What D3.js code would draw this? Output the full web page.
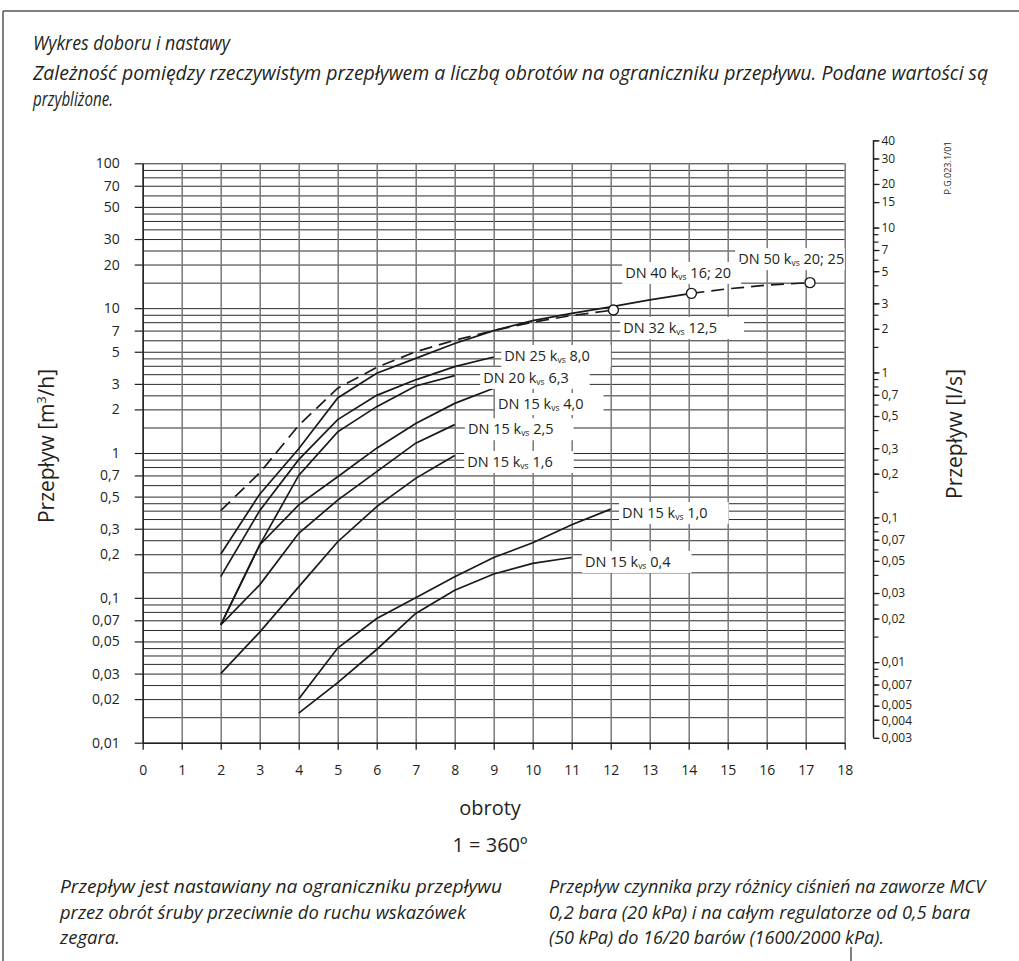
<!DOCTYPE html>
<html><head><meta charset="utf-8">
<script src="https://cdn.jsdelivr.net/npm/d3@7"></script>
<style>
body{margin:0;background:#fff}
svg{display:block}
text{font-family:"Open Sans","Noto Sans",sans-serif;fill:#231f20}
.axis path,.axis line{stroke:#231f20}
</style>
</head><body>
<svg id="c" width="1019" height="961"></svg>
<script>
// ---------- data ----------
const turns = d3.range(0, 19);                       // obroty 0..18
const leftTicks = [100,70,50,30,20,10,7,5,3,2,1,0.7,0.5,0.3,0.2,0.1,0.07,0.05,0.03,0.02,0.01];
const gridMantissas = [1,1.5,2,2.5,3,3.5,4,4.5,5,6,7,8,9];
const gridDecades = [0.01,0.1,1,10];
const rightTicks = [40,30,20,15,10,7,5,3,2,1,0.7,0.5,0.3,0.2,0.1,0.07,0.05,0.03,0.02,0.01,0.007,0.005,0.004,0.003];
const rightMinorMantissas = [1,1.5,2,2.5,3,4,5,6,7,8,9];
const rightDecades = [0.001,0.01,0.1,1,10];
const lsToM3h = 3.6;

// series: [obroty, przepływ m3/h]
const dn15_04 = [[4,0.016],[5,0.026],[6,0.044],[7,0.078],[8,0.113],[9,0.146],[10,0.173],[11,0.19]];
const dn15_10 = [[4,0.02],[5,0.045],[6,0.072],[7,0.10],[8,0.14],[9,0.19],[10,0.24],[11,0.32],[12,0.41]];
const dn15_16 = [[2,0.03],[3,0.058],[4,0.119],[5,0.244],[6,0.426],[7,0.668],[8,0.96]];
const dn15_25 = [[2,0.065],[3,0.123],[4,0.279],[5,0.473],[6,0.743],[7,1.17],[8,1.57]];
const dn15_40 = [[2,0.065],[3,0.232],[4,0.438],[5,0.686],[6,1.08],[7,1.6],[8,2.2],[9,2.8]];
const dn20_63 = [[2,0.065],[3,0.232],[4,0.7],[5,1.4],[6,2.09],[7,2.9],[8,3.42]];
const dn25_80 = [[2,0.14],[3,0.4],[4,0.9],[5,1.7],[6,2.5],[7,3.2],[8,3.95],[9,4.6]];
const dn40_16 = [[2,0.2],[3,0.52],[4,1.07],[5,2.4],[6,3.55],[7,4.5],[8,5.7],[9,7.0],[10,8.2],[11,9.2],[12,10.2],[13,11.4],[14.07,12.65]];
const dn32_125 = [[2,0.4],[3,0.73],[4,1.55],[5,2.8],[6,3.9],[7,5.0],[8,6.0],[9,7.0],[10,8.0],[11,8.9],[12.07,9.7]];
const dn50_20 = [[14.07,12.65],[15,13.6],[16,14.4],[17.11,15.0]];
const endMarkers = [[12.07,9.7],[14.07,12.65],[17.11,15.0]];

const labelNames = ["DN 50","DN 40","DN 32","DN 25","DN 20","DN 15","DN 15","DN 15","DN 15","DN 15"];
const labelKvs = ["20; 25","16; 20","12,5","8,0","6,3","4,0","2,5","1,6","1,0","0,4"];
const labelAt = [[15.27,21.8],[12.37,17.5],[12.32,7.3],[9.27,4.67],[8.73,3.3],[9.11,2.18],[8.34,1.46],[8.32,0.867],[12.29,0.385],[11.34,0.177]];
const labelPadRight = [6,10,27,21,21,20,20,21,21,21];

const fmt = v => String(v).replace(".", ",");

// ---------- layout ----------
const svg = d3.select("#c");
const x = d3.scaleLinear().domain([0,18]).range([142.7, 844.7]);
const y = d3.scaleLog().domain([0.01,100]).range([742.7, 163.3]);
const yR = d3.scaleLog().domain([0.01/lsToM3h, 100/lsToM3h]).range([742.7, 163.3]);
const W = x(18) - x(0);

// frame
svg.append("line").attr("x1",3).attr("y1",11).attr("x2",1019).attr("y2",11).attr("stroke","#555").attr("stroke-width",1.5);
svg.append("line").attr("x1",3).attr("y1",11).attr("x2",3).attr("y2",961).attr("stroke","#555").attr("stroke-width",1.5);
svg.append("line").attr("x1",851).attr("y1",947).attr("x2",851).attr("y2",961).attr("stroke","#555").attr("stroke-width",1.5);

// title texts
function fitText(sel, str, x0, yb, width, size, italic){
  sel.append("text").attr("x",x0).attr("y",yb).attr("font-size",size)
    .attr("font-style", italic ? "italic" : "normal")
    .attr("textLength", width).attr("lengthAdjust","spacingAndGlyphs").text(str);
}
fitText(svg,"Wykres doboru i nastawy",33,50,197,19.5,true);
fitText(svg,"Zależność pomiędzy rzeczywistym przepływem a liczbą obrotów na ograniczniku przepływu. Podane wartości są",33,80,955,19.5,true);
fitText(svg,"przybliżone.",33,106,80,19.5,true);

// horizontal grid
const gridVals = [];
gridDecades.forEach(d => gridMantissas.forEach(m => gridVals.push(+(m*d).toPrecision(3))));
gridVals.push(100);
svg.append("g").attr("class","hgrid").attr("transform",`translate(${x(0)},0)`)
  .call(d3.axisLeft(y).tickValues(gridVals).tickSize(-W).tickFormat(""))
  .call(g => g.select(".domain").remove())
  .call(g => g.selectAll("line").attr("stroke","#2a2a2a").attr("stroke-width",1));

// vertical grid
svg.append("g").attr("class","vgrid").attr("transform",`translate(0,${y(0.01)})`)
  .call(d3.axisBottom(x).tickValues(turns).tickSize(-(y(0.01)-y(100))).tickFormat(""))
  .call(g => g.select(".domain").remove())
  .call(g => g.selectAll("line").attr("stroke","#7a7a7a").attr("stroke-width",1.5));

// left axis
svg.append("g").attr("class","axis").attr("transform",`translate(${x(0)},0)`)
  .call(d3.axisLeft(y).tickValues(leftTicks).tickSize(8).tickSizeOuter(0).tickPadding(15).tickFormat(fmt))
  .call(g => g.selectAll("text").attr("font-size",14))
  .call(g => g.selectAll("line").attr("stroke-width",1.2))
  .call(g => g.select(".domain").attr("stroke-width",1.5));

// bottom axis
svg.append("g").attr("class","axis").attr("transform",`translate(0,${y(0.01)})`)
  .call(d3.axisBottom(x).tickValues(turns).tickSize(7).tickSizeOuter(0).tickPadding(15))
  .call(g => g.selectAll("text").attr("font-size",14))
  .call(g => g.selectAll("line").attr("stroke-width",1.3))
  .call(g => g.select(".domain").attr("stroke-width",1.5));

// right axis (l/s)
const rMinor = [];
rightDecades.forEach(d => rightMinorMantissas.forEach(m => {const v=+(m*d).toPrecision(3); if(v>=0.003 && v<=40) rMinor.push(v);}));
const rx = 873.5;
svg.append("g").attr("class","axis").attr("transform",`translate(${rx},0)`)
  .call(d3.axisRight(yR).tickValues(rMinor).tickSize(5).tickSizeOuter(0).tickFormat(""))
  .call(g => g.select(".domain").remove())
  .call(g => g.selectAll("line").attr("stroke-width",1.2));
svg.append("g").attr("class","axis").attr("transform",`translate(${rx},0)`)
  .call(d3.axisRight(yR).tickValues(rightTicks).tickSize(6).tickSizeOuter(0).tickPadding(2).tickFormat(fmt))
  .call(g => g.select(".domain").attr("d",`M0,${yR(40)}V${yR(0.003)}`).attr("stroke-width",1.5))
  .call(g => g.selectAll("text").attr("font-size",12))
  .call(g => g.selectAll(".tick").filter(d => d===0.005).select("text").attr("dy","0.2em"))
  .call(g => g.selectAll(".tick").filter(d => d===0.004).select("text").attr("dy","0.42em"))
  .call(g => g.selectAll("line").attr("stroke-width",1.2));

// drawing number
svg.append("text").attr("transform","translate(951,168) rotate(-90)").attr("text-anchor","middle")
  .attr("font-size",9).text("P.G.023.1/01");

// axis titles
const lt = svg.append("text").attr("transform","translate(54,446) rotate(-90)").attr("text-anchor","middle").attr("font-size",21);
lt.append("tspan").text("Przepływ [m");
lt.append("tspan").attr("font-size",12.5).attr("dy",-8).text("3");
lt.append("tspan").attr("dy",8).text("/h]");
svg.append("text").attr("transform","translate(962,434) rotate(-90)").attr("text-anchor","middle").attr("font-size",21).text("Przepływ [l/s]");
svg.append("text").attr("x",490).attr("y",815).attr("text-anchor","middle").attr("font-size",20).text("obroty");
svg.append("text").attr("x",490).attr("y",852).attr("text-anchor","middle").attr("font-size",20).text("1 = 360º");

// curves
const line = d3.line().x(d => x(d[0])).y(d => y(d[1]));
const solid = [dn15_04, dn15_10, dn15_16, dn15_25, dn15_40, dn20_63, dn25_80, dn40_16];
const dashed = [dn32_125, dn50_20];
const cg = svg.append("g");
cg.selectAll("path.s").data(solid).join("path").attr("class","s").attr("d",line)
  .attr("fill","none").attr("stroke","#1a1a1a").attr("stroke-width",1.7);
cg.selectAll("path.d").data(dashed).join("path").attr("class","d").attr("d",line)
  .attr("fill","none").attr("stroke","#1a1a1a").attr("stroke-width",1.7).attr("stroke-dasharray","13,7");

// labels
const lg = svg.append("g");
labelAt.forEach((p,i) => {
  const g = lg.append("g");
  const tx = x(p[0]), ty = y(p[1]);
  const rect = g.append("rect").attr("fill","#fff");
  const t = g.append("text").attr("x",tx).attr("y",ty+5).attr("font-size",14.5);
  t.append("tspan").text(labelNames[i] + " k");
  t.append("tspan").attr("font-size",8.5).attr("dy",2).text("vs");
  t.append("tspan").attr("dy",-2).text(" " + labelKvs[i]);
  const w = t.node().getComputedTextLength();
  const right = Math.min(tx + w + labelPadRight[i], x(18));
  rect.attr("x",tx-3).attr("y",ty-11).attr("width",right-(tx-3)).attr("height",22);
});

// end markers
cg.selectAll("circle").data(endMarkers).join("circle")
  .attr("cx",d=>x(d[0])).attr("cy",d=>y(d[1])).attr("r",5)
  .attr("fill","#fff").attr("stroke","#1a1a1a").attr("stroke-width",1.4);

// bottom notes
const notesL = ["Przepływ jest nastawiany na ograniczniku przepływu","przez obrót śruby przeciwnie do ruchu wskazówek","zegara."];
const notesLW = [442,406,60];
const notesR = ["Przepływ czynnika przy różnicy ciśnień na zaworze MCV","0,2 bara (20 kPa) i na całym regulatorze od 0,5 bara","(50 kPa) do 16/20 barów (1600/2000 kPa)."];
const notesRW = [436,421,335];
notesL.forEach((s,i)=>fitText(svg,s,60,893+i*25.5,notesLW[i],18,true));
notesR.forEach((s,i)=>fitText(svg,s,549,893+i*25.5,notesRW[i],18,true));
</script>
</body></html>
